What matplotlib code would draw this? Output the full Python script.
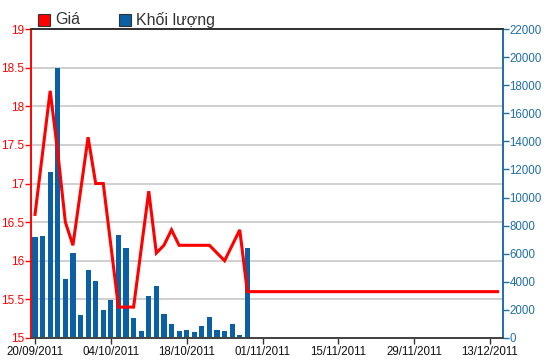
import numpy as np
import matplotlib
matplotlib.use("Agg")
import matplotlib.pyplot as plt
from matplotlib.patches import Rectangle

plt.rcParams['font.family'] = ['Liberation Sans', 'DejaVu Sans']

# trading-day index -> price (Giá), flat after the last session
price = [16.6, 17.4, 18.2, 17.4, 16.5, 16.2, 16.9, 17.6, 17.0, 17.0,
         16.2, 15.4, 15.4, 15.4, 16.15, 16.9, 16.1, 16.2, 16.4, 16.2,
         16.2, 16.2, 16.2, 16.2, 16.1, 16.0, 16.2, 16.4, 15.6]
price_tail_end = 61  # line keeps going flat to this index

# volume (Khối lượng) per trading day
volume = [7200, 7250, 11850, 19250, 4180, 6050, 1620, 4820, 4040, 2020,
          2680, 7300, 6400, 1450, 500, 2970, 3680, 1730, 1020, 500,
          590, 400, 850, 1470, 590, 500, 1020, 240, 6400]

tick_pos = [0, 10, 20, 30, 40, 50, 60]
tick_labels = ["20/09/2011", "04/10/2011", "18/10/2011", "01/11/2011",
               "15/11/2011", "29/11/2011", "13/12/2011"]

red = "#ff0000"
blue = "#0b5fa5"
blue_txt = "#1f6ea8"

fig = plt.figure(figsize=(5.5, 3.64), dpi=100)
ax = fig.add_axes([31/550, 26/364, (502.5-31)/550, (338-29)/364])
ax2 = ax.twinx()

x_bar = np.arange(len(volume))
ax2.bar(x_bar, volume, width=0.68, color=blue, zorder=2)

x_line = list(range(len(price))) + [price_tail_end]
y_line = price + [price[-1]]
ax.plot(x_line, y_line, color=red, lw=2.2, zorder=5, solid_joinstyle='miter')

ax.set_zorder(ax2.get_zorder() + 1)
ax.patch.set_visible(False)

ax.set_xlim(-0.53, 61.65)
ax.set_ylim(15, 19)
ax2.set_ylim(0, 22000)

ax.set_yticks(np.arange(15, 19.01, 0.5))
ax.set_yticklabels(["15", "15.5", "16", "16.5", "17", "17.5", "18", "18.5", "19"])
ax2.set_yticks(np.arange(0, 22001, 2000))
ax.set_xticks(tick_pos)
ax.set_xticklabels(tick_labels)

for v in np.arange(15.5, 18.51, 0.5):
    ax2.axhline((v - 15) * 5500, color="#cccccc", lw=1.3, zorder=1)

ax.tick_params(axis='y', colors=red, labelsize=8.5, length=4, width=1, pad=1)
ax2.tick_params(axis='y', colors=blue_txt, labelsize=8.3, length=4, width=1, pad=1)
ax.tick_params(axis='x', colors="#333333", labelcolor="#111111", labelsize=8.3,
               length=4, width=1, pad=2)

for a in (ax, ax2):
    a.spines['left'].set_color(red)
    a.spines['right'].set_color(blue_txt)
    a.spines['top'].set_color("#333333")
    a.spines['bottom'].set_color("#444444")
    a.spines['left'].set_linewidth(1.2)
    a.spines['right'].set_linewidth(1.2)
    a.spines['top'].set_linewidth(1.3)
    a.spines['bottom'].set_linewidth(1.3)

# legend
fig.patches.append(Rectangle((38/550, (364-26)/364), 12/550, 12/364,
                             transform=fig.transFigure, facecolor=red,
                             edgecolor="#333333", lw=0.8))
fig.text(55/550, (364-20)/364, "Giá", fontsize=11.5, color="#333333", va='center')
fig.patches.append(Rectangle((119/550, (364-26)/364), 12/550, 12/364,
                             transform=fig.transFigure, facecolor=blue,
                             edgecolor="#333333", lw=0.8))
fig.text(136/550, (364-20)/364, "Khối lượng", fontsize=11.5, color="#333333", va='center')

fig.savefig("out.png", dpi=100)
